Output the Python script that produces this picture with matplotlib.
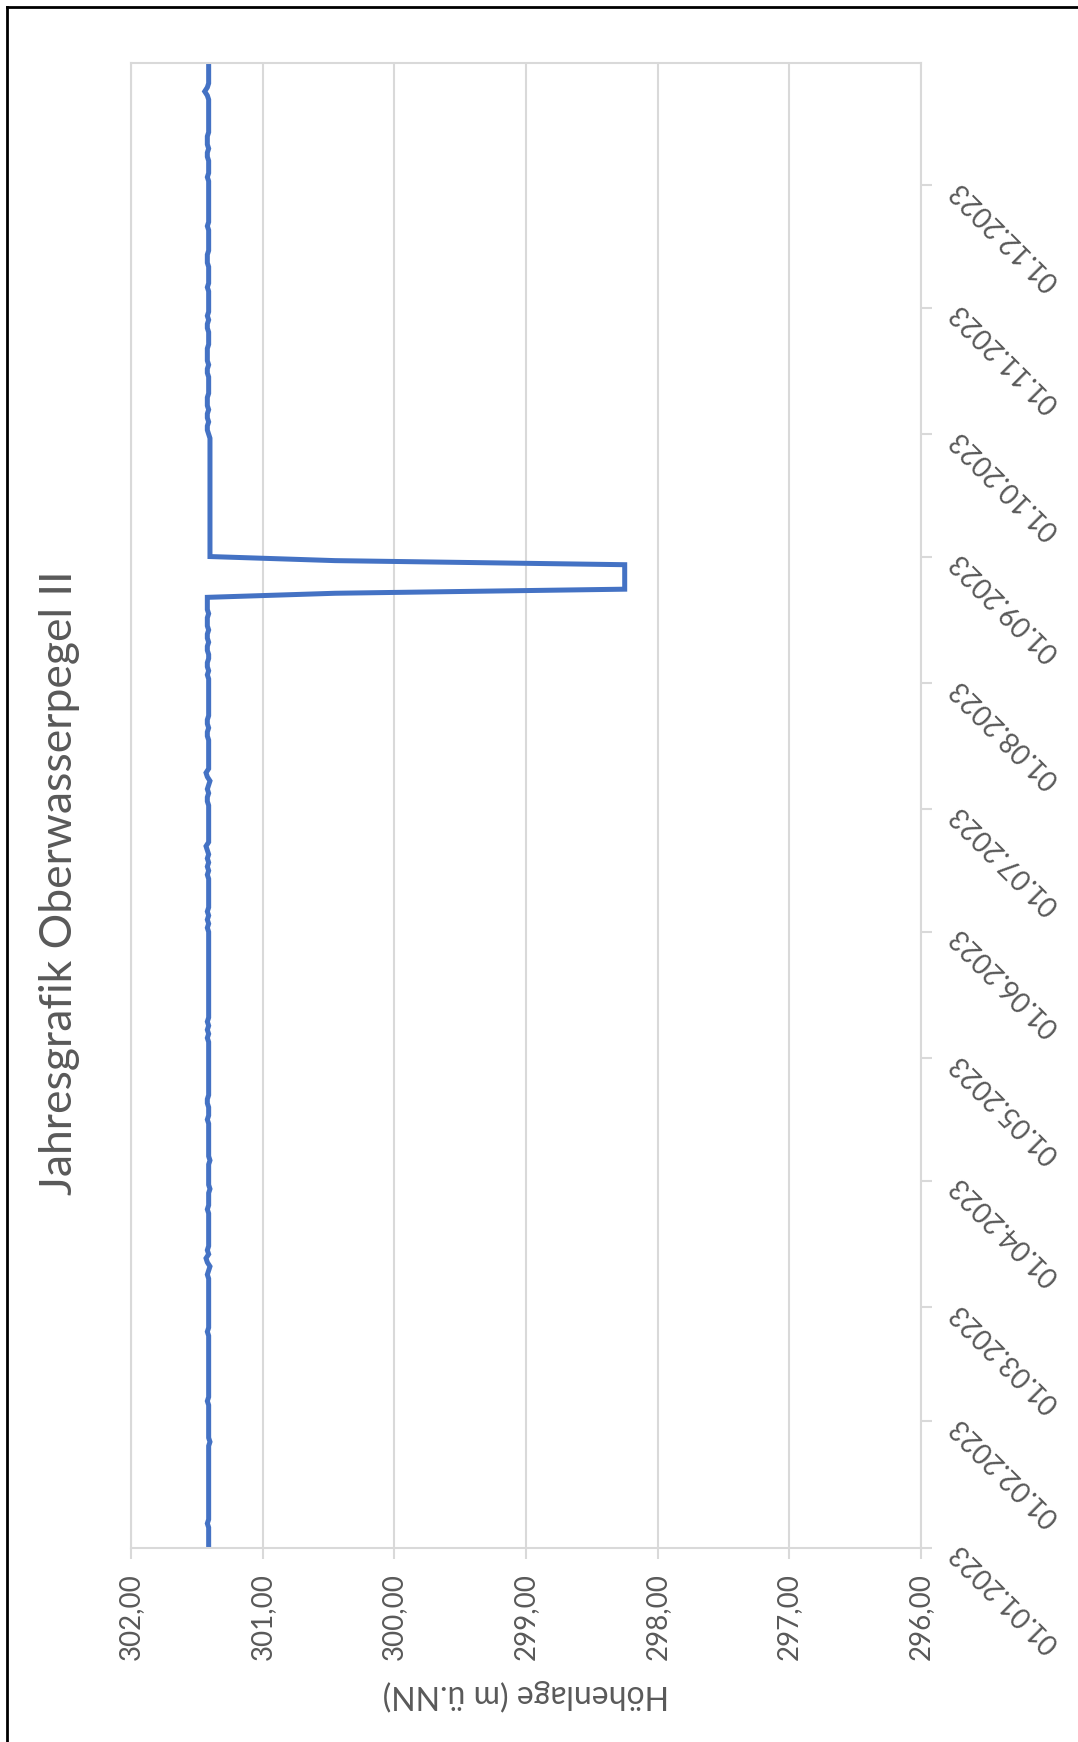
# Jahresgrafik Oberwasserpegel II - Tageswerte 2023, Diagramm um 90° gedreht
import datetime as dt
import matplotlib
matplotlib.use("Agg")
import matplotlib.pyplot as plt
from matplotlib.lines import Line2D

plt.rcParams['font.family'] = ['Lato', 'DejaVu Sans']

titel = "Jahresgrafik Oberwasserpegel II"
achsentitel = "Höhenlage (m ü.NN)"

# Tageswerte Höhenlage in m ü.NN, je Monat
jan = [301.41, 301.41, 301.41, 301.41, 301.41, 301.41, 301.42, 301.41, 301.41, 301.41,
       301.41, 301.41, 301.41, 301.41, 301.41, 301.41, 301.41, 301.41, 301.41, 301.41,
       301.41, 301.41, 301.41, 301.41, 301.41, 301.41, 301.40, 301.41, 301.41, 301.41, 301.41]
feb = [301.41, 301.41, 301.41, 301.41, 301.41, 301.42, 301.41, 301.41, 301.41, 301.41,
       301.41, 301.41, 301.41, 301.41, 301.41, 301.41, 301.41, 301.41, 301.41, 301.41,
       301.41, 301.41, 301.42, 301.41, 301.41, 301.41, 301.41, 301.41]
mar = [301.41, 301.41, 301.41, 301.41, 301.41, 301.41, 301.41, 301.41, 301.42, 301.41,
       301.40, 301.42, 301.43, 301.41, 301.42, 301.41, 301.41, 301.41, 301.41, 301.41,
       301.41, 301.41, 301.41, 301.41, 301.42, 301.41, 301.41, 301.41, 301.41, 301.40, 301.41]
apr = [301.41, 301.41, 301.41, 301.41, 301.41, 301.40, 301.41, 301.41, 301.41, 301.41,
       301.41, 301.41, 301.41, 301.41, 301.41, 301.42, 301.41, 301.41, 301.41, 301.42,
       301.42, 301.41, 301.41, 301.41, 301.41, 301.41, 301.41, 301.41, 301.41, 301.41]
mai = [301.41, 301.41, 301.41, 301.41, 301.41, 301.42, 301.41, 301.42, 301.41, 301.42,
       301.41, 301.41, 301.41, 301.41, 301.41, 301.41, 301.41, 301.41, 301.41, 301.41,
       301.41, 301.41, 301.41, 301.41, 301.41, 301.41, 301.41, 301.41, 301.41, 301.41, 301.41]
jun = [301.41, 301.42, 301.41, 301.42, 301.41, 301.42, 301.41, 301.41, 301.41, 301.41,
       301.41, 301.41, 301.41, 301.41, 301.42, 301.41, 301.42, 301.41, 301.42, 301.41,
       301.42, 301.43, 301.41, 301.41, 301.41, 301.41, 301.41, 301.41, 301.41, 301.41]
jul = [301.41, 301.41, 301.42, 301.42, 301.41, 301.42, 301.41, 301.40, 301.42, 301.43,
       301.41, 301.41, 301.41, 301.41, 301.41, 301.41, 301.41, 301.41, 301.42, 301.42,
       301.41, 301.42, 301.42, 301.41, 301.41, 301.41, 301.41, 301.41, 301.41, 301.41, 301.41]
aug = [301.41, 301.41, 301.42, 301.41, 301.42, 301.42, 301.41, 301.41, 301.42, 301.42,
       301.41, 301.42, 301.42, 301.41, 301.42, 301.42, 301.42, 301.41, 301.42, 301.42,
       301.42, 301.42, 300.45, 298.25, 298.25, 298.25, 298.25, 298.25, 298.25, 298.25, 300.45]
sep = [301.40, 301.40, 301.40, 301.40, 301.40, 301.40, 301.40, 301.40, 301.40, 301.40,
       301.40, 301.40, 301.40, 301.40, 301.40, 301.40, 301.40, 301.40, 301.40, 301.40,
       301.40, 301.40, 301.40, 301.40, 301.40, 301.40, 301.40, 301.40, 301.40, 301.40]
okt = [301.41, 301.42, 301.42, 301.41, 301.42, 301.42, 301.41, 301.42, 301.42, 301.42,
       301.41, 301.41, 301.41, 301.41, 301.41, 301.42, 301.42, 301.41, 301.42, 301.42,
       301.42, 301.42, 301.41, 301.41, 301.41, 301.41, 301.42, 301.42, 301.41, 301.42, 301.41]
nov = [301.41, 301.41, 301.41, 301.41, 301.41, 301.42, 301.41, 301.41, 301.41, 301.41,
       301.41, 301.42, 301.42, 301.42, 301.41, 301.41, 301.41, 301.41, 301.41, 301.41,
       301.42, 301.41, 301.41, 301.41, 301.41, 301.41, 301.41, 301.41, 301.41, 301.41]
dez = [301.41, 301.41, 301.42, 301.41, 301.41, 301.41, 301.41, 301.42, 301.42, 301.41,
       301.42, 301.42, 301.42, 301.41, 301.41, 301.41, 301.41, 301.41, 301.41, 301.41,
       301.41, 301.41, 301.42, 301.44, 301.42, 301.41, 301.41, 301.41, 301.41, 301.41, 301.41]

werte = jan + feb + mar + apr + mai + jun + jul + aug + sep + okt + nov + dez
start = dt.date(2023, 1, 1)
tage = [start + dt.timedelta(days=i) for i in range(len(werte))]

monate = [dt.date(2023, m, 1) for m in range(1, 13)]
monats_labels = [d.strftime("%d.%m.%Y") for d in monate]
hoehen = [302, 301, 300, 299, 298, 297, 296]
hoehen_labels = ["302,00", "301,00", "300,00", "299,00", "298,00", "297,00", "296,00"]

grau = "#d9d9d9"
text_grau = "#595959"

fig = plt.figure(figsize=(10.78, 17.42), dpi=100)
ax = fig.add_axes([0.1215, 0.1114, 0.7328, 0.8525])

# Höhe waagrecht, Datum senkrecht
ax.plot(werte, tage, color="#4472C4", lw=3.6, solid_joinstyle="miter")

ax.set_xlim(302, 296)
ax.set_ylim(tage[0], tage[-1])
ax.set_xticks(hoehen)
ax.set_xticklabels(hoehen_labels, rotation=90, fontsize=20, color=text_grau)
ax.set_yticks(monate)
ax.yaxis.tick_right()
ax.set_yticklabels(monats_labels, fontsize=20, color=text_grau)
for lbl in ax.get_yticklabels():
    lbl.set_rotation(135)
    lbl.set_rotation_mode("anchor")
    lbl.set_ha("right")
    lbl.set_va("center")

ax.tick_params(axis="x", direction="out", length=8, width=1.5, color=grau, pad=10)
ax.tick_params(axis="y", direction="out", length=8, width=1.5, color=grau, pad=16)
ax.grid(axis="x", color=grau, lw=1.5)
ax.set_axisbelow(True)
for s in ax.spines.values():
    s.set_color(grau)
    s.set_linewidth(1.5)

ax.set_xlabel(achsentitel, rotation=180, fontsize=23, color=text_grau, labelpad=14)
fig.text(0.055, 1 - 883 / 1742, titel, rotation=90, fontsize=32, color=text_grau,
         ha="center", va="center")

# Rahmen links und oben
fig.add_artist(Line2D([7 / 1078, 7 / 1078], [0, 1 - 7 / 1742], color="black", lw=2,
                      transform=fig.transFigure))
fig.add_artist(Line2D([7 / 1078, 1], [1 - 7 / 1742, 1 - 7 / 1742], color="black", lw=2,
                      transform=fig.transFigure))

fig.savefig("out.png", dpi=100)
